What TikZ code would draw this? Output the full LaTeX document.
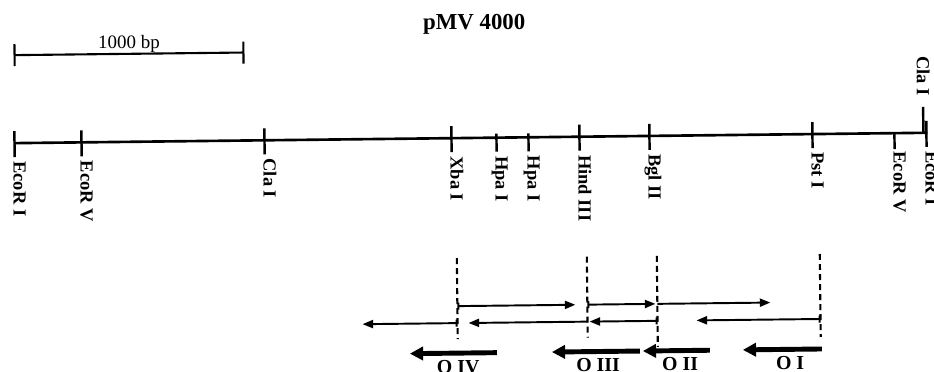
\documentclass[tikz,border=0pt]{standalone}
\usepackage{fontspec}
\setmainfont{Liberation Serif}
\usetikzlibrary{arrows.meta}
\tikzset{
  mapline/.style={line width=1.5pt},
  sitetick/.style={line width=1.4pt},
  sitelabel/.style={rotate=-90,anchor=base west,inner sep=0pt,
    font=\fontsize{10.5}{12}\selectfont\bfseries},
  titletext/.style={anchor=base,inner sep=0pt,font=\fontsize{13}{15}\selectfont\bfseries},
  scalebar/.style={line width=1.2pt,{Bar[width=12.5pt]}-{Bar[width=12.5pt]}},
  scaletext/.style={above,inner sep=0pt,font=\fontsize{10.8}{12}\selectfont},
  boundary/.style={line width=1.2pt,dash pattern=on 3.4pt off 2.3pt},
  transcript/.style={line width=1.1pt,-{Triangle[length=6pt,width=4.6pt]}},
  startbar/.style={{Bar[width=4pt]}-{Triangle[length=6pt,width=4.6pt]}},
  operon/.style={line width=2.8pt,-{Triangle[length=7.5pt,width=7.5pt]}},
  operonlabel/.style={anchor=base,inner sep=0pt,font=\fontsize{11.3}{13}\selectfont\bfseries},
}

\begin{document}
\begin{tikzpicture}[x=0.02cm,y=-0.02cm]
  \useasboundingbox (0,0) rectangle (934,372);
  \clip (0,0) rectangle (934,372);
  \begin{scope}[rotate around={0.65:(467,186)}]

  %% ── Title and scale bar ───────────────────────────────────────────────────
  \node[titletext] (title) at (476,30) {pMV 4000};
  \draw[scalebar] (15,50) -- node[scaletext] (scale) {1000 bp} (246,50);

  %% ── Restriction map ───────────────────────────────────────────────────────
  \draw[mapline] (15,138) -- (928,138);

  \draw[sitetick] (15,126)  -- (15,152);
  \node[sitelabel] (ecoria) at (14,156)  {EcoR I};
  \draw[sitetick] (82,126)  -- (82,152);
  \node[sitelabel] (ecorva) at (81,156)  {EcoR V};
  \draw[sitetick] (265,126) -- (265,152);
  \node[sitelabel] (claia)  at (264,156) {Cla I};
  \draw[sitetick] (452,126) -- (452,152);
  \node[sitelabel] (xbai)   at (451,156) {Xba I};
  \draw[sitetick] (497,134) -- (497,152);
  \node[sitelabel] (hpaia)  at (496,156) {Hpa I};
  \draw[sitetick] (529,134) -- (529,152);
  \node[sitelabel] (hpaib)  at (528,156) {Hpa I};
  \draw[sitetick] (580,126) -- (580,152);
  \node[sitelabel] (hindiii) at (579,156) {Hind III};
  \draw[sitetick] (650,126) -- (650,152);
  \node[sitelabel] (bglii)  at (649,156) {Bgl II};
  \draw[sitetick] (813,126) -- (813,152);
  \node[sitelabel] (psti)   at (812,156) {Pst I};
  \draw[sitetick] (895,138) -- (895,154);
  \node[sitelabel] (ecorvb) at (894,156) {EcoR V};
  \draw[sitetick] (927,126) -- (927,152);
  \node[sitelabel] (ecorib) at (926,156) {EcoR I};
  \draw[sitetick] (924,112) -- (924,138);
  \node[sitelabel,anchor=base east] (claib) at (918,101) {Cla I};

  %% ── Fragment boundaries ───────────────────────────────────────────────────
  \draw[boundary] (456,258) -- (456,339);
  \draw[boundary] (586,258) -- (586,339);
  \draw[boundary] (656,258) -- (656,349);
  \draw[boundary] (819,258) -- (819,341);

  %% ── Transcripts ───────────────────────────────────────────────────────────
  \draw[transcript,startbar] (456,306) -- (574,306);
  \draw[transcript,startbar] (586,306) -- (654,306);
  \draw[transcript]          (656,306) -- (769,306);

  \draw[transcript,startbar] (456,323) -- (361,323);
  \draw[transcript]          (586,323) -- (467,323);
  \draw[transcript,startbar] (656,323) -- (588,323);
  \draw[transcript,startbar] (819,323) -- (695,323);

  %% ── Operons ───────────────────────────────────────────────────────────────
  \draw[operon] (495,353) -- (408,353);
  \draw[operon] (638,353) -- (550,353);
  \draw[operon] (708,353) -- (641,353);
  \draw[operon] (820,353) -- (741,353);
  \node[operonlabel] (oiv)  at (456,373) {O IV};
  \node[operonlabel] (oiii) at (596,373) {O III};
  \node[operonlabel] (oii)  at (678,373) {O II};
  \node[operonlabel] (oi)   at (788,373) {O I};

  \end{scope}
\end{tikzpicture}
\end{document}
